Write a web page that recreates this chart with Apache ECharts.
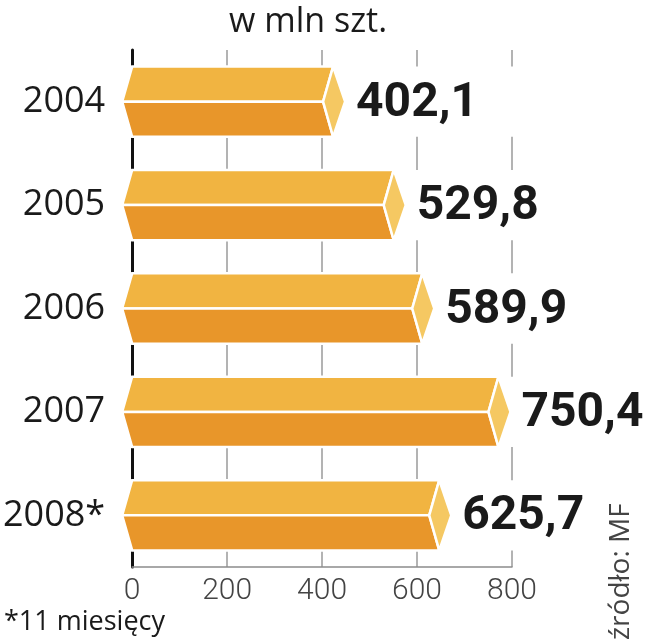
<!DOCTYPE html>
<html>
<head>
<meta charset="utf-8">
<script src="https://cdn.jsdelivr.net/npm/echarts@6/dist/echarts.min.js"></script>
<style>
  html, body { margin: 0; padding: 0; background: #fff; }
  #chart { width: 645px; height: 640px; }
</style>
</head>
<body>
<div id="chart"></div>
<script>
const categories = ['2004', '2005', '2006', '2007', '2008*'];
const values = [402.1, 529.8, 589.9, 750.4, 625.7];
const xTicks = [0, 200, 400, 600, 800];
const titleText = 'w mln szt.';
const footnote = '*11 miesięcy';
const sourceText = 'źródło: MF';

const chart = echarts.init(document.getElementById('chart'), null, { renderer: 'canvas' });

const fmt = v => v.toFixed(1).replace('.', ',');

function renderItem(params, api) {
  const idx = api.value(1);
  const v = api.value(0);
  const c = api.coord([v, idx]);
  const x0 = api.coord([xTicks[0], idx])[0];
  const xEnd = api.coord([xTicks[xTicks.length - 1], idx])[0];
  const cx = c[0], cy = c[1];
  const h = api.size([0, 1])[1] * 0.68;
  const hh = h / 2;
  const stroke = { stroke: '#ffffff', lineWidth: 2.5, lineJoin: 'miter' };
  return {
    type: 'group',
    children: [
      { type: 'rect', shape: { x: x0 - 14, y: cy - hh, width: xEnd - x0 + 20, height: h },
        style: { fill: '#ffffff' } },
      { type: 'polygon', shape: { points: [[x0 - 10, cy], [x0, cy - hh], [cx + 10, cy - hh], [cx, cy]] },
        style: Object.assign({ fill: '#F1B441' }, stroke) },
      { type: 'polygon', shape: { points: [[x0 - 10, cy], [cx, cy], [cx + 10, cy + hh], [x0, cy + hh]] },
        style: Object.assign({ fill: '#E8962A' }, stroke) },
      { type: 'polygon', shape: { points: [[cx + 10, cy - hh], [cx + 22, cy], [cx + 10, cy + hh], [cx, cy]] },
        style: Object.assign({ fill: '#F5C862' }, stroke) },
      { type: 'text', x: cx + 33, y: cy + 2,
        style: { text: fmt(v), fill: '#1a1a1a', fontSize: 48, fontWeight: 'bold',
                 fontFamily: 'Roboto, "Liberation Sans", sans-serif',
                 textAlign: 'left', textVerticalAlign: 'middle' } }
    ]
  };
}

const option = {
  backgroundColor: '#ffffff',
  animation: false,
  grid: { left: 132, right: 133, top: 50, bottom: 73, containLabel: false },
  xAxis: {
    type: 'value', min: xTicks[0], max: xTicks[xTicks.length - 1], interval: 200,
    axisLine: { show: true, lineStyle: { color: '#8c8c8c', width: 1.5 } },
    axisTick: { show: false },
    splitLine: { show: true, lineStyle: { color: '#9a9a9a', width: 1.5 } },
    axisLabel: { fontSize: 30, color: '#444', margin: 9, fontFamily: 'Roboto', fontWeight: 300 }
  },
  yAxis: {
    type: 'category', data: categories, inverse: true,
    axisLine: { show: true, lineStyle: { color: '#111', width: 3 } },
    axisTick: { show: false },
    axisLabel: { fontSize: 36, color: '#1a1a1a', margin: 27, fontFamily: '"Open Sans"' }
  },
  series: [{
    type: 'custom',
    renderItem: renderItem,
    data: values.map((v, i) => [v, i]),
    encode: { x: 0, y: 1 },
    z: 5
  }],
  graphic: [
    { type: 'text', x: 229, y: 22,
      style: { text: titleText, fontSize: 34, fontFamily: '"Open Sans"', fill: '#1a1a1a',
               textAlign: 'left', textVerticalAlign: 'middle' } },
    { type: 'text', x: 4, y: 622,
      style: { text: footnote, fontSize: 27, fontFamily: '"Open Sans"', fill: '#1a1a1a',
               textAlign: 'left', textVerticalAlign: 'middle' } },
    { type: 'text', x: 607, y: 640, rotation: Math.PI / 2,
      style: { text: sourceText, fontSize: 28, fontFamily: '"Open Sans"', fill: '#444',
               textAlign: 'left', textVerticalAlign: 'top' } }
  ]
};
chart.setOption(option);
</script>
</body>
</html>
